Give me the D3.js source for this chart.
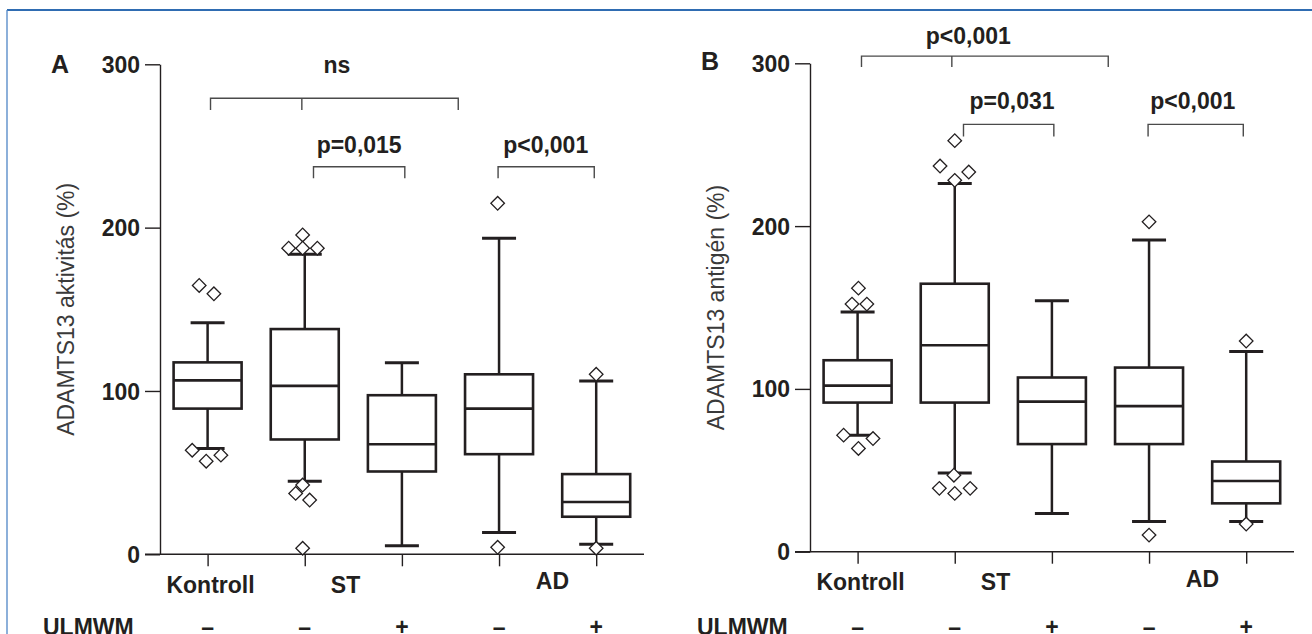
<!DOCTYPE html>
<html>
<head>
<meta charset="utf-8">
<script src="https://cdn.jsdelivr.net/npm/d3@7"></script>
<style>
  html, body { margin: 0; padding: 0; background: #ffffff; }
  svg { display: block; }
  text { font-family: "Liberation Sans", Arial, Helvetica, sans-serif; }
</style>
</head>
<body>
<svg id="chart" width="1312" height="634"></svg>
<script>
// ---------------- DATA ----------------
const categories = ["Kontroll −", "ST −", "ST +", "AD −", "AD +"];
const ulmwmSigns = ["–", "–", "+", "–", "+"];
const groupLabels = ["Kontroll", "ST", "AD"];
const groupLabelPos = [0.03, 1.42, 3.55];   // category-index position of group labels
const yTicks = [0, 100, 200, 300];

// Panel A: ADAMTS13 aktivitás (%)
const aMin = [64.8, 44.8, 5.3, 13.4, 6.1];
const aQ1  = [89.2, 70.3, 50.7, 61.3, 23.0];
const aMed = [106.5, 103.1, 67.4, 89.2, 32.0];
const aQ3  = [117.5, 137.9, 97.4, 110.2, 49.1];
const aMax = [141.8, 183.7, 117.3, 193.5, 106.1];
// outliers: [category index, value, side-by-side slot]
const aOutliers = [
  [0, 164.6, -0.6], [0, 159.5, 0.45], [0, 63.7, -1.1], [0, 57.0, -0.1], [0, 60.7, 0.95],
  [1, 195.5, -0.15], [1, 187.4, -1.15], [1, 187.4, -0.15], [1, 187.4, 0.9],
  [1, 42.4, -0.15], [1, 37.3, -0.65], [1, 33.2, 0.35], [1, 3.7, -0.15],
  [3, 214.9, -0.1], [3, 4.3, -0.1],
  [4, 110.2, 0], [4, 3.7, 0]
];
// significance brackets: [left idx, right idx, middle leg idx or null, bar value, leg value, label, label idx, label value]
const aBrackets = [
  [0.03, 2.58, 0.97, 279.2, 272.0, "ns", 1.33, 294.9],
  [1.09, 2.03, null, 237.3, 230.2, "p=0,015", 1.56, 245.5],
  [2.99, 3.98, null, 237.3, 230.2, "p<0,001", 3.48, 245.5]
];

// Panel B: ADAMTS13 antigén (%)
const bMin = [71.6, 48.3, 23.5, 18.6, 18.6];
const bQ1  = [91.6, 91.6, 66.1, 66.1, 29.7];
const bMed = [102.0, 126.8, 92.2, 89.4, 43.4];
const bQ3  = [117.6, 164.6, 107.0, 113.1, 55.4];
const bMax = [147.2, 226.1, 154.2, 191.4, 122.9];
const bOutliers = [
  [0, 161.9, 0.06], [0, 152.1, -0.4], [0, 152.1, 0.66],
  [0, 71.6, -1.0], [0, 69.5, 1.1], [0, 63.4, 0.06],
  [1, 252.5, 0], [1, 236.9, -1.05], [1, 233.2, 1.0], [1, 228.1, 0],
  [1, 47.0, -0.06], [1, 38.9, -1.1], [1, 35.8, 0], [1, 38.9, 1.1],
  [3, 202.6, 0], [3, 10.2, 0],
  [4, 129.4, 0], [4, 17.0, 0]
];
const bBrackets = [
  [0.04, 2.58, 0.97, 304.4, 297.7, "p<0,001", 1.14, 312.0],
  [1.09, 2.02, null, 262.5, 255.1, "p=0,031", 1.59, 272.1],
  [2.99, 3.97, null, 262.5, 255.1, "p<0,001", 3.45, 272.1]
];

// ---------------- DRAWING ----------------
const svg = d3.select("#chart");
const INK = "#231f20";

// blue frame
svg.append("line").attr("x1", 7).attr("x2", 1312).attr("y1", 10).attr("y2", 10)
  .attr("stroke", "#2f6cb2").attr("stroke-width", 2);
svg.append("line").attr("x1", 7).attr("x2", 7).attr("y1", 10).attr("y2", 634)
  .attr("stroke", "#4f86c6").attr("stroke-width", 1.3);

function drawPanel(cfg) {
  const g = svg.append("g").attr("transform", `translate(${cfg.ox},0)`);
  const x = d3.scaleLinear().domain([0, 4]).range([207.6, 596.2]);
  const y = d3.scaleLinear().domain([0, 300]).range([cfg.y0, cfg.y300]);
  const axisX = 160;
  const boxW = 68, capW = 34, slot = 14;

  // y axis
  const yAxis = d3.axisLeft(y).tickValues(yTicks).tickSize(15).tickPadding(5).tickSizeOuter(0);
  const ya = g.append("g").attr("transform", `translate(${axisX},0)`).call(yAxis);
  ya.select(".domain").attr("stroke", INK).attr("stroke-width", 1.4);
  ya.selectAll(".tick line").attr("stroke", INK).attr("stroke-width", 1.4);
  ya.selectAll(".tick text").attr("fill", INK).attr("font-size", 23).attr("font-weight", 700)
    .attr("font-family", "Liberation Sans, Arial, sans-serif").attr("dy", "0.35em");

  // x axis line (extends left to tick start)
  const xa = g.append("g").attr("transform", `translate(0,${cfg.y0})`)
    .call(d3.axisBottom(x).tickValues(d3.range(categories.length)).tickSize(12).tickFormat(() => "").tickSizeOuter(0));
  xa.select(".domain").remove();
  xa.selectAll(".tick line").attr("stroke", INK).attr("stroke-width", 1.4);
  g.append("line").attr("x1", axisX - 15).attr("x2", 644).attr("y1", cfg.y0).attr("y2", cfg.y0)
    .attr("stroke", INK).attr("stroke-width", 1.4);

  // y title
  g.append("text")
    .attr("transform", `translate(74,${(cfg.y0 + cfg.y300) / 2}) rotate(-90)`)
    .attr("text-anchor", "middle").attr("fill", "#3a3a3a")
    .attr("font-size", 23).attr("font-weight", 400)
    .text(cfg.title);

  // panel letter
  g.append("text").attr("x", 51).attr("y", cfg.letterY).attr("fill", INK)
    .attr("font-size", 25).attr("font-weight", 700).text(cfg.letter);

  // boxes
  const idx = d3.range(categories.length);
  const bx = g.append("g").attr("stroke", INK).attr("fill", "none");
  // whiskers
  bx.selectAll(".wu").data(idx).join("line")
    .attr("x1", i => x(i)).attr("x2", i => x(i))
    .attr("y1", i => y(cfg.q3[i])).attr("y2", i => y(cfg.max[i])).attr("stroke-width", 2.5);
  bx.selectAll(".wl").data(idx).join("line")
    .attr("x1", i => x(i)).attr("x2", i => x(i))
    .attr("y1", i => y(cfg.q1[i])).attr("y2", i => y(cfg.min[i])).attr("stroke-width", 2.5);
  // caps
  [cfg.max, cfg.min].forEach(arr => {
    bx.selectAll(null).data(idx).join("line")
      .attr("x1", i => x(i) - capW / 2).attr("x2", i => x(i) + capW / 2)
      .attr("y1", i => y(arr[i])).attr("y2", i => y(arr[i])).attr("stroke-width", 3);
  });
  // box
  bx.selectAll(null).data(idx).join("rect")
    .attr("x", i => x(i) - boxW / 2).attr("width", boxW)
    .attr("y", i => y(cfg.q3[i])).attr("height", i => y(cfg.q1[i]) - y(cfg.q3[i]))
    .attr("fill", "#fff").attr("stroke-width", 2.6);
  // median
  bx.selectAll(null).data(idx).join("line")
    .attr("x1", i => x(i) - boxW / 2).attr("x2", i => x(i) + boxW / 2)
    .attr("y1", i => y(cfg.med[i])).attr("y2", i => y(cfg.med[i])).attr("stroke-width", 2.6);

  // outliers (diamonds)
  const diamond = d3.symbol().type(d3.symbolSquare).size(92);
  g.append("g").selectAll("path").data(cfg.out).join("path")
    .attr("d", diamond)
    .attr("transform", d => `translate(${x(d[0]) + d[2] * slot},${y(d[1])}) rotate(45)`)
    .attr("fill", "#fff").attr("stroke", INK).attr("stroke-width", 1.3);

  // brackets
  const br = g.append("g");
  cfg.brackets.forEach(b => {
    const [l, r, m, bar, leg, label, li, lv] = b;
    const p = d3.path();
    p.moveTo(x(l), y(leg)); p.lineTo(x(l), y(bar)); p.lineTo(x(r), y(bar)); p.lineTo(x(r), y(leg));
    if (m !== null) { p.moveTo(x(m), y(bar)); p.lineTo(x(m), y(leg)); }
    br.append("path").attr("d", p.toString()).attr("fill", "none")
      .attr("stroke", "#4a4a4a").attr("stroke-width", 1.4);
    br.append("text").attr("x", x(li)).attr("y", y(lv)).attr("text-anchor", "middle")
      .attr("fill", INK).attr("font-size", 23).attr("font-weight", 700).text(label);
  });

  // group labels
  g.append("g").selectAll("text").data(groupLabels).join("text")
    .attr("x", (d, i) => x(groupLabelPos[i]))
    .attr("y", (d, i) => cfg.y0 + (d === "AD" ? 35 : 38.5))
    .attr("text-anchor", "middle").attr("fill", INK)
    .attr("font-size", 23).attr("font-weight", 700).text(d => d);

  // ULMWM row
  g.append("text").attr("x", 43 + (cfg.ox ? 4 : 0)).attr("y", 635).attr("fill", INK)
    .attr("font-size", 23).attr("font-weight", 700).text("ULMWM");
  g.append("g").selectAll("text").data(ulmwmSigns).join("text")
    .attr("x", (d, i) => x(i)).attr("y", 635).attr("text-anchor", "middle")
    .attr("fill", INK).attr("font-size", 23).attr("font-weight", 700).text(d => d);
}

drawPanel({
  ox: 0, y0: 554.3, y300: 64.3, letter: "A", letterY: 73,
  title: "ADAMTS13 aktivitás (%)",
  min: aMin, q1: aQ1, med: aMed, q3: aQ3, max: aMax, out: aOutliers, brackets: aBrackets
});
drawPanel({
  ox: 650, y0: 551.7, y300: 63.3, letter: "B", letterY: 70,
  title: "ADAMTS13 antigén (%)",
  min: bMin, q1: bQ1, med: bMed, q3: bQ3, max: bMax, out: bOutliers, brackets: bBrackets
});
</script>
</body>
</html>
